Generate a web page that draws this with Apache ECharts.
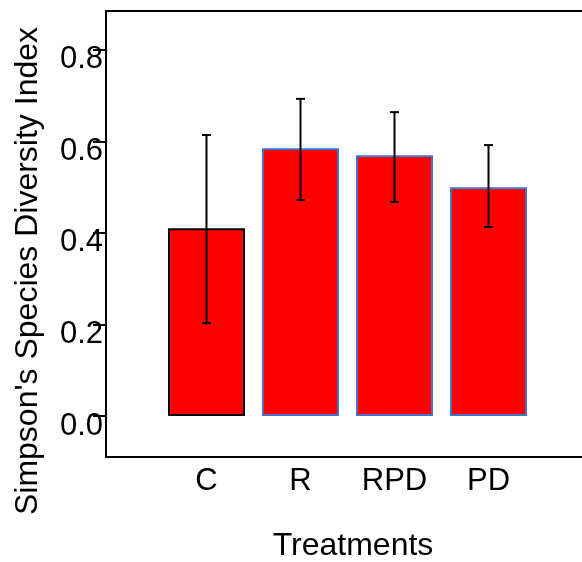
<!DOCTYPE html>
<html>
<head>
<meta charset="utf-8">
<script src="https://cdn.jsdelivr.net/npm/echarts@6/dist/echarts.min.js"></script>
<style>
  html, body { margin: 0; padding: 0; background: #fff; }
  #chart { width: 582px; height: 562px; }
</style>
</head>
<body>
<div id="chart"></div>
<script>
// Treatment groups and their mean Simpson's diversity index
const categories = ['C', 'R', 'RPD', 'PD'];
const means = [0.41, 0.585, 0.57, 0.50];
// Lower and upper ends of each error bar
const errLow = [0.203, 0.472, 0.468, 0.413];
const errHigh = [0.614, 0.693, 0.664, 0.592];
// Value axis tick labels
const yTicks = [0, 0.2, 0.4, 0.6, 0.8];

const FONT = "'Liberation Sans', Arial, sans-serif";
const barBorder = (i) => (i === 0 ? '#000000' : '#4472C4');
const X_MIN = -1.069, X_MAX = 4.186;
const frameLine = { show: true, onZero: false, lineStyle: { color: '#000', width: 2 } };

const chart = echarts.init(document.getElementById('chart'), null, { renderer: 'canvas' });

chart.setOption({
  animation: false,
  backgroundColor: '#ffffff',
  grid: {
    left: 106, width: 494, top: 11, bottom: 105,
    outerBoundsMode: 'none',
    containLabel: false,
    show: false
  },
  xAxis: [
    {
      type: 'value',
      position: 'bottom',
      min: X_MIN,
      max: X_MAX,
      name: 'Treatments',
      nameLocation: 'middle',
      nameGap: 73,
      nameTextStyle: { fontFamily: FONT, fontSize: 32, color: '#000' },
      axisLine: frameLine,
      axisTick: { show: false },
      splitLine: { show: false },
      axisLabel: {
        customValues: categories.map((c, i) => i),
        formatter: (v) => categories[Math.round(v)] || '',
        fontFamily: FONT, fontSize: 31, color: '#000', margin: 9
      }
    },
    {
      // top edge of the plot frame
      type: 'value',
      position: 'top',
      min: X_MIN,
      max: X_MAX,
      axisLine: frameLine,
      axisTick: { show: false },
      axisLabel: { show: false },
      splitLine: { show: false }
    }
  ],
  yAxis: {
    type: 'value',
    min: -0.0896,
    max: 0.885,
    name: "Simpson's Species Diversity Index",
    nameLocation: 'middle',
    nameRotate: 90,
    nameGap: 62,
    nameTextStyle: { fontFamily: FONT, fontSize: 32, color: '#000', padding: [0, 74, 0, 0] },
    axisLine: frameLine,
    axisTick: {
      show: true, customValues: yTicks, length: 13, inside: false,
      lineStyle: { color: '#000', width: 2 }
    },
    splitLine: { show: false },
    axisLabel: {
      customValues: yTicks,
      formatter: (v) => v.toFixed(1),
      fontFamily: FONT, fontSize: 31, color: '#000', margin: 3,
      verticalAlign: 'top', lineHeight: 20
    }
  },
  series: [
    {
      type: 'bar',
      barWidth: 77,
      data: means.map((v, i) => ({
        value: [i, v],
        itemStyle: { color: '#FF0000', borderColor: barBorder(i), borderWidth: 2 }
      })),
      z: 2
    },
    {
      type: 'custom',
      z: 5,
      data: categories.map((c, i) => [i, errLow[i], errHigh[i]]),
      renderItem: function (params, api) {
        const x = api.value(0);
        const lo = api.coord([x, api.value(1)]);
        const hi = api.coord([x, api.value(2)]);
        const capHalf = 4.5;
        const style = { stroke: '#000', lineWidth: 2 };
        return {
          type: 'group',
          children: [
            { type: 'line', shape: { x1: lo[0], y1: lo[1], x2: hi[0], y2: hi[1] }, style },
            { type: 'line', shape: { x1: hi[0] - capHalf, y1: hi[1], x2: hi[0] + capHalf, y2: hi[1] }, style },
            { type: 'line', shape: { x1: lo[0] - capHalf, y1: lo[1], x2: lo[0] + capHalf, y2: lo[1] }, style }
          ]
        };
      }
    }
  ]
});
</script>
</body>
</html>
